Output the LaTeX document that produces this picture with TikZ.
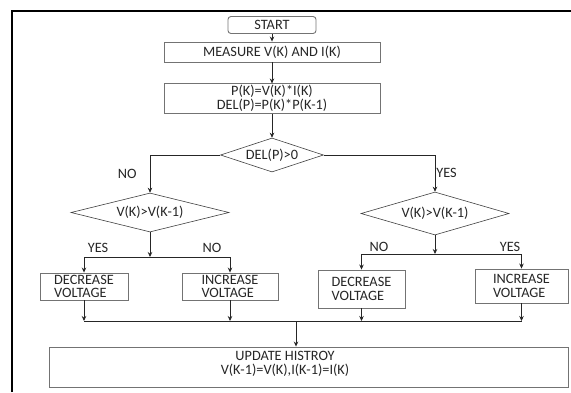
\documentclass[tikz,border=0pt]{standalone}
\usepackage{fontspec}
\setmainfont{Carlito}
\usetikzlibrary{positioning,arrows.meta,shapes.geometric}

\begin{document}
\begin{tikzpicture}[x=1pt,y=-1pt,
 b/.style={draw=black!55,line width=0.9pt,align=center,inner sep=1.5pt,font=\fontsize{14.3}{13.8}\selectfont,text=black!85},
 d/.style={draw=black!75,line width=0.6pt,diamond,aspect=3.8,inner sep=0pt,font=\fontsize{14.3}{13.8}\selectfont,text=black!85},
 a/.style={-{Stealth[length=5pt,width=4.5pt]},draw=black!85,line width=0.7pt},
 ln/.style={draw=black!85,line width=0.7pt},
 l/.style={font=\fontsize{14.3}{13.8}\selectfont,text=black!85,inner sep=1pt}]
\useasboundingbox (0,0) rectangle (571,392);
% frame
\draw[line width=2.6pt] (12,392) -- (12,11) -- (571,11);
% main column
\node[b,rounded corners=3pt,minimum width=88,minimum height=17] (start) at (272,25) {START};
\node[b,minimum width=216,minimum height=20] (meas) at (272,52) {MEASURE V(K) AND I(K)};
\node[b,minimum width=216,minimum height=27] (pow) at (272,98.5) {P(K)=V(K)*I(K)\\DEL(P)=P(K)*P(K-1)};
\node[d,minimum width=103,minimum height=34] (dp) at (272,155) {DEL(P)>0};
\draw[a] (start)--(meas); \draw[a] (meas)--(pow); \draw[a] (pow)--(dp);
% branches
\node[d,minimum width=158,minimum height=39] (cl) at (150,212.5) {V(K)>V(K-1)};
\node[d,minimum width=148,minimum height=43] (cr) at (435,213.5) {V(K)>V(K-1)};
\draw[a] (dp.west) -| node[pos=0.75,l,left=12pt] (no1) {NO} (cl.north);
\draw[a] (dp.east) -| node[pos=0.75,l,right] (yes1) {YES} (cr.north);
% voltage steps
\node[b,align=left,minimum width=88,minimum height=27] (dl) at (84,286.5) {DECREASE\\VOLTAGE};
\node[b,align=left,minimum width=96,minimum height=27] (il) at (230,286.5) {INCREASE\\VOLTAGE};
\node[b,align=left,minimum width=87,minimum height=38] (dr) at (361.5,289) {DECREASE\\VOLTAGE};
\node[b,align=left,minimum width=93,minimum height=34] (ir) at (521.5,286) {INCREASE\\VOLTAGE};
\coordinate (jl) at (150,257);
\coordinate (jr) at (435,254);
\draw[a] (cl.south)--(jl); \draw[a] (jl) -| (dl.north); \draw[a] (jl) -| (il.north);
\draw[a] (cr.south)--(jr); \draw[a] (jr) -| (dr.north); \draw[a] (jr) -| (ir.north);
\node[l] (yl) at (98,248) {YES};
\node[l] (nl) at (212,248) {NO};
\node[l] (nr) at (379,247) {NO};
\node[l] (yr) at (510,247) {YES};
% update
\node[b,minimum width=519,minimum height=40] (upd) at (308.5,367) {};
\node[l,align=center] (updt) at (285,364) {UPDATE HISTROY\\V(K-1)=V(K),I(K-1)=I(K)};
\coordinate (mg) at (296,321);
\foreach \n in {dl,il,dr,ir} \draw[a] (\n.south) -- (\n.south |- mg);
\draw[ln] (dl.south |- mg) -- (ir.south |- mg);
\draw[a] (mg) -- (mg |- upd.north);
\end{tikzpicture}
\end{document}
